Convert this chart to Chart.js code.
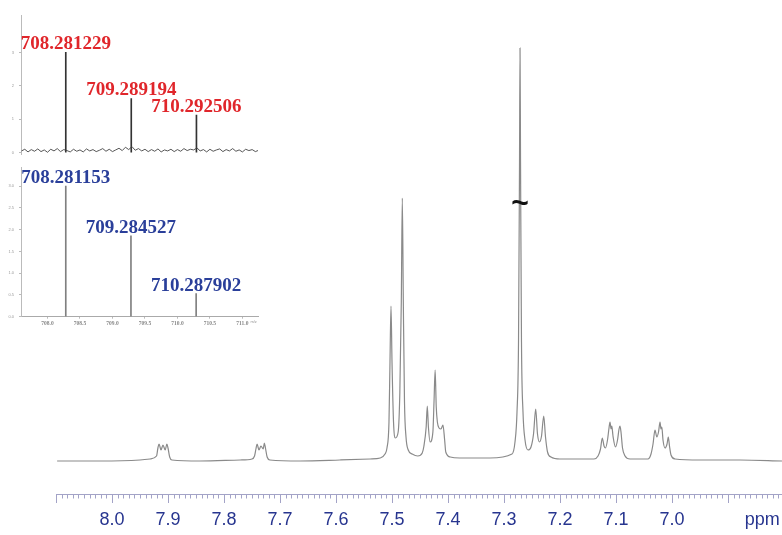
<!DOCTYPE html>
<html><head><meta charset="utf-8">
<script src="https://cdn.jsdelivr.net/npm/chart.js@4.4.1/dist/chart.umd.min.js"></script>
<style>
html,body{margin:0;padding:0;background:#fff;}
#wrap{position:relative;width:782px;height:535px;overflow:hidden;background:#fff;}
#wrap canvas{position:absolute;}
</style></head><body>
<div id="wrap">
<canvas id="nmr" width="782" height="535" style="left:0;top:0"></canvas>
<canvas id="ms1" width="270" height="162" style="left:0;top:0"></canvas>
<canvas id="ms2" width="270" height="175" style="left:0;top:160px"></canvas>
</div>
<script>
// ---------- 1H NMR spectrum (ppm, intensity) ----------
const nmrPpm = [8.098,8.021,7.950,7.932,7.9205,7.918,7.916,7.9125,7.909,7.905,7.902,7.900,7.897,7.893,
7.843,7.771,7.750,7.7455,7.743,7.741,7.7375,7.734,7.730,7.728,7.726,7.723,7.718,
7.664,7.593,7.539,7.521,7.5125,7.509,7.5054,7.5036,7.5018,7.5000,7.4973,7.494,7.489,7.486,7.4834,7.4816,7.4798,7.4777,7.475,7.471,7.464,7.454,
7.446,7.443,7.439,7.437,7.435,7.432,7.427,7.425,7.423,7.421,7.419,7.416,7.4125,7.409,7.406,7.404,7.396,7.379,7.325,
7.2857,7.2804,7.2768,7.2741,7.2723,7.2714,7.2705,7.2688,7.2661,7.2625,7.2571,
7.2518,7.2473,7.2434,7.2402,7.2366,7.2330,7.2291,7.2259,7.2223,7.2161,7.2000,
7.1393,7.1321,7.1277,7.1245,7.1214,7.1188,7.1152,7.1125,7.1107,7.1089,7.1075,7.1054,7.1009,7.0973,7.0946,7.0929,7.0911,7.0884,7.0839,7.0750,
7.0429,7.0375,7.0339,7.0304,7.0271,7.0241,7.0214,7.0198,7.0182,7.0161,7.0125,7.0089,7.0066,7.0045,7.0018,6.9946,6.9500,6.8786,6.8036];
const nmrIntensity = [1,1,2,3,6,14,18,12,17,12,18,14,5,2,
1,2,3,6,13,18,12,16,13,19,14,5,2,
1,2,3,4,8,14,40,100,156,100,40,24,30,70,160,264,160,60,25,12,8,6,
9,16,35,56,35,20,30,60,92,55,40,34,33,37,22,10,5,4,4,
8,20,50,120,300,414,300,120,50,22,12,
15,28,53,28,20,26,46,25,10,5,3,
3,6,13,24,16,14,22,34,40,33,36,26,15,22,33,36,30,14,6,3,
3,8,18,32,25,30,40,33,35,22,14,18,25,16,7,3,2,2,1];
const ppmTicks = [8.1,8.0,7.9,7.8,7.7,7.6,7.5,7.4,7.3,7.2,7.1,7.0,6.9];
const ppmTickLabels = ['','8.0','7.9','7.8','7.7','7.6','7.5','7.4','7.3','7.2','7.1','7.0',''];
const ppmUnit = 'ppm';
const solventPeakPpm = 7.2714;
const breakMark = '~';

// ---------- HRMS: found (top) ----------
const foundMz = [708.281229, 709.289194, 710.292506];
const foundInt = [3.0, 1.62, 1.12];
const foundLabels = ['708.281229','709.289194','710.292506'];
const noiseMz = [707.60,707.65,707.70,707.75,707.80,707.85,707.90,707.95,708.00,708.05,708.10,708.15,708.20,708.25,708.30,708.35,708.40,708.45,708.50,708.55,708.60,708.65,708.70,708.75,708.80,708.85,708.90,708.95,
709.00,709.05,709.10,709.15,709.20,709.25,709.30,709.35,709.40,709.45,709.50,709.55,709.60,709.65,709.70,709.75,709.80,709.85,709.90,709.95,
710.00,710.05,710.10,710.15,710.20,710.25,710.30,710.35,710.40,710.45,710.50,710.55,710.60,710.65,710.70,710.75,710.80,710.85,710.90,710.95,711.00,711.05,711.10,711.15,711.20,711.25];
const noiseInt = [0.05,0.10,0.02,0.09,0.04,0.11,0.03,0.08,0.01,0.10,0.05,0.12,0.03,0.09,0.06,0.02,0.10,0.04,0.08,0.02,0.11,0.05,0.09,0.03,0.07,0.12,0.04,0.10,
0.03,0.08,0.13,0.06,0.16,0.09,0.18,0.07,0.12,0.05,0.10,0.03,0.09,0.04,0.11,0.02,0.08,0.05,0.10,0.03,
0.09,0.04,0.12,0.06,0.10,0.08,0.14,0.05,0.09,0.02,0.10,0.04,0.08,0.11,0.03,0.09,0.05,0.12,0.04,0.08,0.02,0.10,0.06,0.09,0.03,0.07];
const topYTicks = [0,1,2,3];
const topYTickLabels = ['0','1','2','3'];

// ---------- HRMS: calculated (bottom) ----------
const calcMz = [708.281153, 709.284527, 710.287902];
const calcInt = [3.0, 1.86, 0.53];
const calcLabels = ['708.281153','709.284527','710.287902'];
const msXTicks = [708.0,708.5,709.0,709.5,710.0,710.5,711.0];
const msXTickLabels = ['708.0','708.5','709.0','709.5','710.0','710.5','711.0'];
const botYTicks = [0,0.5,1.0,1.5,2.0,2.5,3.0];
const botYTickLabels = ['0.0','0.5','1.0','1.5','2.0','2.5','3.0'];
const mzUnit = 'm/z';

const AXIS_BLUE = '#27358f';
const TICK_COL = '#a3a3c7';

// ----- NMR chart -----
const nmrDecor = {
  id:'nmrDecor',
  afterDraw(chart){
    const s = chart.scales.x, ys = chart.scales.y, ctx = chart.ctx;
    const y0 = chart.chartArea.bottom;
    ctx.save();
    ctx.strokeStyle = TICK_COL; ctx.lineWidth = 1;
    for (let k = 680; k <= 810; k++) {
      if (k % 10 === 0) continue;
      const v = k / 100;
      if (v < s.min || v > s.max) continue;
      const x = Math.round(s.getPixelForValue(v)) + 0.5;
      ctx.beginPath(); ctx.moveTo(x, y0); ctx.lineTo(x, y0 + 4.5); ctx.stroke();
    }
    ctx.fillStyle = AXIS_BLUE;
    ctx.font = '18px "Liberation Sans"';
    ctx.textAlign = 'center'; ctx.textBaseline = 'middle';
    ctx.fillText(ppmUnit, s.getPixelForValue(6.839), y0 + 9 + 6 + 10.8);
    ctx.fillStyle = '#111';
    ctx.font = 'bold 30px "Liberation Sans"';
    ctx.fillText(breakMark, s.getPixelForValue(solventPeakPpm), ys.getPixelForValue(257));
    ctx.restore();
  }
};

new Chart(document.getElementById('nmr'), {
  type:'line',
  data:{ datasets:[{
    data: nmrPpm.map((p,i)=>({x:p, y:nmrIntensity[i]})),
    borderColor:'#8a8a8a', borderWidth:1.2, pointRadius:0,
    cubicInterpolationMode:'monotone', fill:false
  }]},
  options:{
    responsive:false, animation:false,
    layout:{padding:{left:56,right:0,top:0,bottom:0}},
    plugins:{legend:{display:false}, tooltip:{enabled:false}},
    scales:{
      x:{ type:'linear', reverse:true, min:6.8036, max:8.1,
        afterFit: s => { s.height = 41; },
        afterBuildTicks: s => { s.ticks = ppmTicks.map(v=>({value:v})); },
        ticks:{ autoSkip:false, maxRotation:0, padding:6, color:AXIS_BLUE,
          font:{family:'Liberation Sans', size:18}, callback:(v,i)=>ppmTickLabels[i] },
        grid:{ drawOnChartArea:false, tickLength:9, color:TICK_COL, lineWidth:1 },
        border:{ display:true, color:TICK_COL, width:1 }
      },
      y:{ display:false, min:-32, max:462 }
    }
  },
  plugins:[nmrDecor]
});

// ----- MS label plugin -----
function msLabels(mz, ints, labels, color){
  return {
    id:'msLabels',
    afterDatasetsDraw(chart){
      const ctx = chart.ctx, xs = chart.scales.x, ys = chart.scales.y;
      ctx.save();
      ctx.fillStyle = color;
      ctx.font = 'bold 19px "Liberation Serif"';
      ctx.textAlign = 'center'; ctx.textBaseline = 'alphabetic';
      mz.forEach((m,i)=>{
        ctx.fillText(labels[i], xs.getPixelForValue(m), ys.getPixelForValue(ints[i]) - 3);
      });
      ctx.restore();
    }
  };
}

// ----- top inset (found) -----
new Chart(document.getElementById('ms1'), {
  data:{ datasets:[
    { type:'line', data: noiseMz.map((m,i)=>({x:m, y:noiseInt[i]})),
      borderColor:'#444', borderWidth:0.9, pointRadius:0, tension:0 },
    { type:'bar', data: foundMz.map((m,i)=>({x:m, y:foundInt[i]})),
      backgroundColor:'#333', barThickness:1, grouped:false }
  ]},
  options:{
    responsive:false, animation:false,
    layout:{padding:{left:0,right:12,top:15,bottom:5}},
    plugins:{legend:{display:false}, tooltip:{enabled:false}},
    scales:{
      x:{ type:'linear', min:707.592, max:711.24, display:false, offset:false, grid:{offset:false} },
      y:{ min:-0.06, max:4.12,
        afterFit: s => { s.width = 21; },
        afterBuildTicks: s => { s.ticks = topYTicks.map(v=>({value:v})); },
        ticks:{ autoSkip:false, padding:5, color:'#999', font:{family:'Liberation Sans', size:4}, callback:(v,i)=>topYTickLabels[i] },
        grid:{ drawOnChartArea:false, tickLength:2, color:'#bbb' },
        border:{ display:true, color:'#bbb', width:1 }
      }
    }
  },
  plugins:[msLabels(foundMz, foundInt, foundLabels, '#e0262b')]
});

// ----- bottom inset (calculated) -----
const mzUnitPlugin = {
  id:'mzUnit',
  afterDraw(chart){
    const ctx = chart.ctx, xs = chart.scales.x;
    ctx.save();
    ctx.fillStyle = '#999'; ctx.font = '4px "Liberation Sans"';
    ctx.textAlign = 'left'; ctx.textBaseline = 'middle';
    ctx.fillText(mzUnit, xs.getPixelForValue(711.0) + 8, chart.chartArea.bottom + 5);
    ctx.restore();
  }
};
new Chart(document.getElementById('ms2'), {
  type:'bar',
  data:{ datasets:[
    { data: calcMz.map((m,i)=>({x:m, y:calcInt[i]})),
      backgroundColor:'#808080', barThickness:1 }
  ]},
  options:{
    responsive:false, animation:false,
    layout:{padding:{left:0,right:12,top:7,bottom:0}},
    plugins:{legend:{display:false}, tooltip:{enabled:false}},
    scales:{
      x:{ type:'linear', min:707.592, max:711.24, offset:false,
        afterFit: s => { s.height = 18.3; },
        afterBuildTicks: s => { s.ticks = msXTicks.map(v=>({value:v})); },
        ticks:{ autoSkip:false, maxRotation:0, padding:2, color:'#888', font:{family:'Liberation Serif', size:5.5, weight:'bold'}, callback:(v,i)=>msXTickLabels[i] },
        grid:{ drawOnChartArea:false, tickLength:2, color:'#bbb', offset:false },
        border:{ display:true, color:'#aaa', width:1 }
      },
      y:{ min:0, max:3.43,
        afterFit: s => { s.width = 21; },
        afterBuildTicks: s => { s.ticks = botYTicks.map(v=>({value:v})); },
        ticks:{ autoSkip:false, padding:5, color:'#999', font:{family:'Liberation Sans', size:4}, callback:(v,i)=>botYTickLabels[i] },
        grid:{ drawOnChartArea:false, tickLength:2, color:'#bbb' },
        border:{ display:true, color:'#bbb', width:1 }
      }
    }
  },
  plugins:[msLabels(calcMz, calcInt, calcLabels, '#2a3f9a'), mzUnitPlugin]
});
</script>
</body></html>
